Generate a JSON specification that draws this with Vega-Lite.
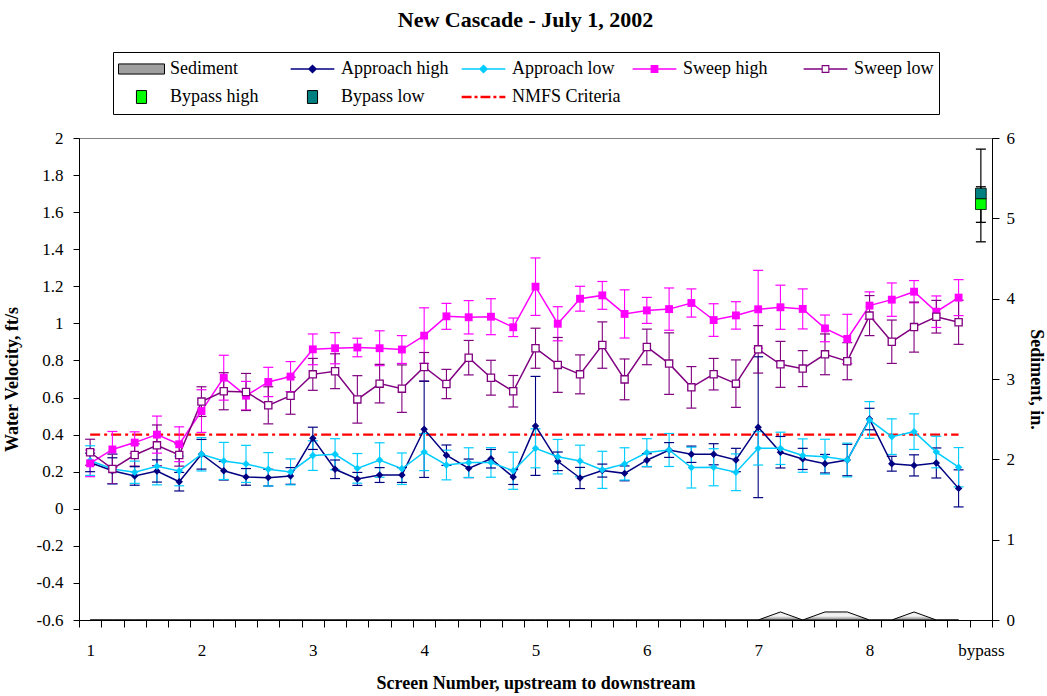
{
"$schema": "https://vega.github.io/schema/vega-lite/v6.json",
"width": 913, "height": 482,
"autosize": {"type": "none"},
"padding": {"left": 79, "top": 138, "right": 55, "bottom": 76},
"background": "white",
"config": {
  "font": "Liberation Serif",
  "view": {"stroke": "#808080", "strokeWidth": 1},
  "axis": {"labelFont": "Liberation Serif", "labelFontSize": 17, "labelColor": "black", "titleFont": "Liberation Serif", "titleFontSize": 18, "titleFontWeight": "bold", "titleColor": "black", "domainColor": "black", "tickColor": "black", "grid": false, "labelFlush": false}
},
"title": {"text": "New Cascade - July 1, 2002", "font": "Liberation Serif", "fontSize": 22, "fontWeight": "bold", "color": "black", "anchor": "middle", "frame": "group", "offset": 20, "dx": -10},
"datasets": {
  "main": [
{"s":"Approach high","i":0,"v":0.25,"lo":0.2,"hi":0.3},
{"s":"Approach high","i":1,"v":0.205,"lo":0.135,"hi":0.275},
{"s":"Approach high","i":2,"v":0.177,"lo":0.127,"hi":0.227},
{"s":"Approach high","i":3,"v":0.204,"lo":0.144,"hi":0.264},
{"s":"Approach high","i":4,"v":0.146,"lo":0.096,"hi":0.196},
{"s":"Approach high","i":5,"v":0.294,"lo":0.214,"hi":0.374},
{"s":"Approach high","i":6,"v":0.205,"lo":0.155,"hi":0.255},
{"s":"Approach high","i":7,"v":0.172,"lo":0.127,"hi":0.217},
{"s":"Approach high","i":8,"v":0.168,"lo":0.123,"hi":0.213},
{"s":"Approach high","i":9,"v":0.177,"lo":0.132,"hi":0.222},
{"s":"Approach high","i":10,"v":0.38,"lo":0.32,"hi":0.44},
{"s":"Approach high","i":11,"v":0.213,"lo":0.163,"hi":0.263},
{"s":"Approach high","i":12,"v":0.161,"lo":0.126,"hi":0.196},
{"s":"Approach high","i":13,"v":0.182,"lo":0.142,"hi":0.222},
{"s":"Approach high","i":14,"v":0.182,"lo":0.142,"hi":0.222},
{"s":"Approach high","i":15,"v":0.429,"lo":0.169,"hi":0.689},
{"s":"Approach high","i":16,"v":0.289,"lo":0.234,"hi":0.344},
{"s":"Approach high","i":17,"v":0.218,"lo":0.168,"hi":0.268},
{"s":"Approach high","i":18,"v":0.27,"lo":0.22,"hi":0.32},
{"s":"Approach high","i":19,"v":0.171,"lo":0.131,"hi":0.211},
{"s":"Approach high","i":20,"v":0.447,"lo":0.18,"hi":0.714},
{"s":"Approach high","i":21,"v":0.256,"lo":0.206,"hi":0.306},
{"s":"Approach high","i":22,"v":0.166,"lo":0.109,"hi":0.223},
{"s":"Approach high","i":23,"v":0.206,"lo":0.171,"hi":0.241},
{"s":"Approach high","i":24,"v":0.191,"lo":0.151,"hi":0.231},
{"s":"Approach high","i":25,"v":0.262,"lo":0.227,"hi":0.297},
{"s":"Approach high","i":26,"v":0.317,"lo":0.277,"hi":0.357},
{"s":"Approach high","i":27,"v":0.294,"lo":0.25,"hi":0.338},
{"s":"Approach high","i":28,"v":0.294,"lo":0.237,"hi":0.351},
{"s":"Approach high","i":29,"v":0.263,"lo":0.2,"hi":0.326},
{"s":"Approach high","i":30,"v":0.44,"lo":0.06,"hi":0.82},
{"s":"Approach high","i":31,"v":0.305,"lo":0.22,"hi":0.39},
{"s":"Approach high","i":32,"v":0.269,"lo":0.212,"hi":0.326},
{"s":"Approach high","i":33,"v":0.243,"lo":0.193,"hi":0.293},
{"s":"Approach high","i":34,"v":0.263,"lo":0.178,"hi":0.348},
{"s":"Approach high","i":35,"v":0.484,"lo":0.426,"hi":0.542},
{"s":"Approach high","i":36,"v":0.243,"lo":0.203,"hi":0.283},
{"s":"Approach high","i":37,"v":0.234,"lo":0.177,"hi":0.291},
{"s":"Approach high","i":38,"v":0.247,"lo":0.166,"hi":0.328},
{"s":"Approach high","i":39,"v":0.11,"lo":0.01,"hi":0.21},
{"s":"Approach low","i":0,"v":0.26,"lo":0.18,"hi":0.34},
{"s":"Approach low","i":1,"v":0.215,"lo":0.135,"hi":0.295},
{"s":"Approach low","i":2,"v":0.197,"lo":0.137,"hi":0.257},
{"s":"Approach low","i":3,"v":0.229,"lo":0.129,"hi":0.329},
{"s":"Approach low","i":4,"v":0.204,"lo":0.124,"hi":0.284},
{"s":"Approach low","i":5,"v":0.294,"lo":0.204,"hi":0.384},
{"s":"Approach low","i":6,"v":0.258,"lo":0.158,"hi":0.358},
{"s":"Approach low","i":7,"v":0.242,"lo":0.142,"hi":0.342},
{"s":"Approach low","i":8,"v":0.213,"lo":0.123,"hi":0.303},
{"s":"Approach low","i":9,"v":0.199,"lo":0.129,"hi":0.269},
{"s":"Approach low","i":10,"v":0.287,"lo":0.207,"hi":0.367},
{"s":"Approach low","i":11,"v":0.294,"lo":0.21,"hi":0.378},
{"s":"Approach low","i":12,"v":0.218,"lo":0.138,"hi":0.298},
{"s":"Approach low","i":13,"v":0.263,"lo":0.17,"hi":0.356},
{"s":"Approach low","i":14,"v":0.216,"lo":0.131,"hi":0.301},
{"s":"Approach low","i":15,"v":0.306,"lo":0.206,"hi":0.406},
{"s":"Approach low","i":16,"v":0.236,"lo":0.156,"hi":0.316},
{"s":"Approach low","i":17,"v":0.249,"lo":0.169,"hi":0.329},
{"s":"Approach low","i":18,"v":0.25,"lo":0.17,"hi":0.33},
{"s":"Approach low","i":19,"v":0.205,"lo":0.105,"hi":0.305},
{"s":"Approach low","i":20,"v":0.326,"lo":0.221,"hi":0.431},
{"s":"Approach low","i":21,"v":0.281,"lo":0.188,"hi":0.374},
{"s":"Approach low","i":22,"v":0.258,"lo":0.173,"hi":0.343},
{"s":"Approach low","i":23,"v":0.21,"lo":0.11,"hi":0.31},
{"s":"Approach low","i":24,"v":0.242,"lo":0.155,"hi":0.329},
{"s":"Approach low","i":25,"v":0.303,"lo":0.228,"hi":0.378},
{"s":"Approach low","i":26,"v":0.317,"lo":0.228,"hi":0.406},
{"s":"Approach low","i":27,"v":0.222,"lo":0.112,"hi":0.332},
{"s":"Approach low","i":28,"v":0.224,"lo":0.124,"hi":0.324},
{"s":"Approach low","i":29,"v":0.197,"lo":0.098,"hi":0.296},
{"s":"Approach low","i":30,"v":0.326,"lo":0.236,"hi":0.416},
{"s":"Approach low","i":31,"v":0.326,"lo":0.239,"hi":0.413},
{"s":"Approach low","i":32,"v":0.287,"lo":0.197,"hi":0.377},
{"s":"Approach low","i":33,"v":0.281,"lo":0.187,"hi":0.375},
{"s":"Approach low","i":34,"v":0.263,"lo":0.172,"hi":0.354},
{"s":"Approach low","i":35,"v":0.479,"lo":0.38,"hi":0.578},
{"s":"Approach low","i":36,"v":0.389,"lo":0.293,"hi":0.485},
{"s":"Approach low","i":37,"v":0.416,"lo":0.32,"hi":0.512},
{"s":"Approach low","i":38,"v":0.306,"lo":0.221,"hi":0.391},
{"s":"Approach low","i":39,"v":0.224,"lo":0.118,"hi":0.33},
{"s":"Sweep high","i":0,"v":0.245,"lo":0.173,"hi":0.317},
{"s":"Sweep high","i":1,"v":0.32,"lo":0.223,"hi":0.417},
{"s":"Sweep high","i":2,"v":0.357,"lo":0.299,"hi":0.415},
{"s":"Sweep high","i":3,"v":0.4,"lo":0.3,"hi":0.5},
{"s":"Sweep high","i":4,"v":0.348,"lo":0.254,"hi":0.442},
{"s":"Sweep high","i":5,"v":0.527,"lo":0.412,"hi":0.642},
{"s":"Sweep high","i":6,"v":0.707,"lo":0.586,"hi":0.828},
{"s":"Sweep high","i":7,"v":0.61,"lo":0.533,"hi":0.687},
{"s":"Sweep high","i":8,"v":0.684,"lo":0.605,"hi":0.763},
{"s":"Sweep high","i":9,"v":0.713,"lo":0.632,"hi":0.794},
{"s":"Sweep high","i":10,"v":0.86,"lo":0.777,"hi":0.943},
{"s":"Sweep high","i":11,"v":0.866,"lo":0.782,"hi":0.95},
{"s":"Sweep high","i":12,"v":0.87,"lo":0.82,"hi":0.92},
{"s":"Sweep high","i":13,"v":0.866,"lo":0.772,"hi":0.96},
{"s":"Sweep high","i":14,"v":0.859,"lo":0.784,"hi":0.934},
{"s":"Sweep high","i":15,"v":0.934,"lo":0.784,"hi":1.084},
{"s":"Sweep high","i":16,"v":1.038,"lo":0.968,"hi":1.108},
{"s":"Sweep high","i":17,"v":1.033,"lo":0.943,"hi":1.123},
{"s":"Sweep high","i":18,"v":1.036,"lo":0.939,"hi":1.133},
{"s":"Sweep high","i":19,"v":0.979,"lo":0.929,"hi":1.029},
{"s":"Sweep high","i":20,"v":1.198,"lo":1.043,"hi":1.353},
{"s":"Sweep high","i":21,"v":0.998,"lo":0.906,"hi":1.09},
{"s":"Sweep high","i":22,"v":1.133,"lo":1.066,"hi":1.2},
{"s":"Sweep high","i":23,"v":1.151,"lo":1.076,"hi":1.226},
{"s":"Sweep high","i":24,"v":1.051,"lo":0.921,"hi":1.181},
{"s":"Sweep high","i":25,"v":1.07,"lo":1.0,"hi":1.14},
{"s":"Sweep high","i":26,"v":1.077,"lo":0.963,"hi":1.191},
{"s":"Sweep high","i":27,"v":1.11,"lo":1.034,"hi":1.186},
{"s":"Sweep high","i":28,"v":1.018,"lo":0.93,"hi":1.106},
{"s":"Sweep high","i":29,"v":1.043,"lo":0.969,"hi":1.117},
{"s":"Sweep high","i":30,"v":1.076,"lo":0.866,"hi":1.286},
{"s":"Sweep high","i":31,"v":1.087,"lo":0.968,"hi":1.206},
{"s":"Sweep high","i":32,"v":1.078,"lo":0.97,"hi":1.186},
{"s":"Sweep high","i":33,"v":0.973,"lo":0.901,"hi":1.045},
{"s":"Sweep high","i":34,"v":0.916,"lo":0.783,"hi":1.049},
{"s":"Sweep high","i":35,"v":1.096,"lo":1.022,"hi":1.17},
{"s":"Sweep high","i":36,"v":1.128,"lo":1.038,"hi":1.218},
{"s":"Sweep high","i":37,"v":1.171,"lo":1.111,"hi":1.231},
{"s":"Sweep high","i":38,"v":1.063,"lo":0.978,"hi":1.148},
{"s":"Sweep high","i":39,"v":1.139,"lo":1.042,"hi":1.236},
{"s":"Sweep low","i":0,"v":0.305,"lo":0.235,"hi":0.375},
{"s":"Sweep low","i":1,"v":0.215,"lo":0.135,"hi":0.295},
{"s":"Sweep low","i":2,"v":0.29,"lo":0.23,"hi":0.35},
{"s":"Sweep low","i":3,"v":0.342,"lo":0.232,"hi":0.452},
{"s":"Sweep low","i":4,"v":0.29,"lo":0.23,"hi":0.35},
{"s":"Sweep low","i":5,"v":0.578,"lo":0.498,"hi":0.658},
{"s":"Sweep low","i":6,"v":0.634,"lo":0.534,"hi":0.734},
{"s":"Sweep low","i":7,"v":0.63,"lo":0.53,"hi":0.73},
{"s":"Sweep low","i":8,"v":0.558,"lo":0.458,"hi":0.658},
{"s":"Sweep low","i":9,"v":0.61,"lo":0.51,"hi":0.71},
{"s":"Sweep low","i":10,"v":0.725,"lo":0.639,"hi":0.811},
{"s":"Sweep low","i":11,"v":0.742,"lo":0.648,"hi":0.836},
{"s":"Sweep low","i":12,"v":0.59,"lo":0.462,"hi":0.718},
{"s":"Sweep low","i":13,"v":0.675,"lo":0.571,"hi":0.779},
{"s":"Sweep low","i":14,"v":0.648,"lo":0.52,"hi":0.776},
{"s":"Sweep low","i":15,"v":0.765,"lo":0.687,"hi":0.843},
{"s":"Sweep low","i":16,"v":0.673,"lo":0.594,"hi":0.752},
{"s":"Sweep low","i":17,"v":0.815,"lo":0.722,"hi":0.908},
{"s":"Sweep low","i":18,"v":0.707,"lo":0.613,"hi":0.801},
{"s":"Sweep low","i":19,"v":0.634,"lo":0.549,"hi":0.719},
{"s":"Sweep low","i":20,"v":0.866,"lo":0.758,"hi":0.974},
{"s":"Sweep low","i":21,"v":0.776,"lo":0.628,"hi":0.924},
{"s":"Sweep low","i":22,"v":0.725,"lo":0.62,"hi":0.83},
{"s":"Sweep low","i":23,"v":0.883,"lo":0.758,"hi":1.008},
{"s":"Sweep low","i":24,"v":0.698,"lo":0.588,"hi":0.808},
{"s":"Sweep low","i":25,"v":0.873,"lo":0.777,"hi":0.969},
{"s":"Sweep low","i":26,"v":0.783,"lo":0.617,"hi":0.949},
{"s":"Sweep low","i":27,"v":0.655,"lo":0.543,"hi":0.767},
{"s":"Sweep low","i":28,"v":0.726,"lo":0.641,"hi":0.811},
{"s":"Sweep low","i":29,"v":0.675,"lo":0.547,"hi":0.803},
{"s":"Sweep low","i":30,"v":0.86,"lo":0.732,"hi":0.988},
{"s":"Sweep low","i":31,"v":0.779,"lo":0.655,"hi":0.903},
{"s":"Sweep low","i":32,"v":0.756,"lo":0.659,"hi":0.853},
{"s":"Sweep low","i":33,"v":0.833,"lo":0.723,"hi":0.943},
{"s":"Sweep low","i":34,"v":0.796,"lo":0.696,"hi":0.896},
{"s":"Sweep low","i":35,"v":1.042,"lo":0.934,"hi":1.15},
{"s":"Sweep low","i":36,"v":0.901,"lo":0.784,"hi":1.018},
{"s":"Sweep low","i":37,"v":0.98,"lo":0.845,"hi":1.115},
{"s":"Sweep low","i":38,"v":1.036,"lo":0.948,"hi":1.124},
{"s":"Sweep low","i":39,"v":1.006,"lo":0.887,"hi":1.125}
  ],
  "bypass": [
{"s":"Bypass low","i":40,"v":1.70,"lo":1.44,"hi":1.94},
{"s":"Bypass high","i":40,"v":1.643,"lo":1.545,"hi":1.737}
  ],
  "nmfs": [
{"i":0,"v":0.4},{"i":1,"v":0.4},{"i":2,"v":0.4},{"i":3,"v":0.4},{"i":4,"v":0.4},{"i":5,"v":0.4},{"i":6,"v":0.4},{"i":7,"v":0.4},{"i":8,"v":0.4},{"i":9,"v":0.4},
{"i":10,"v":0.4},{"i":11,"v":0.4},{"i":12,"v":0.4},{"i":13,"v":0.4},{"i":14,"v":0.4},{"i":15,"v":0.4},{"i":16,"v":0.4},{"i":17,"v":0.4},{"i":18,"v":0.4},{"i":19,"v":0.4},
{"i":20,"v":0.4},{"i":21,"v":0.4},{"i":22,"v":0.4},{"i":23,"v":0.4},{"i":24,"v":0.4},{"i":25,"v":0.4},{"i":26,"v":0.4},{"i":27,"v":0.4},{"i":28,"v":0.4},{"i":29,"v":0.4},
{"i":30,"v":0.4},{"i":31,"v":0.4},{"i":32,"v":0.4},{"i":33,"v":0.4},{"i":34,"v":0.4},{"i":35,"v":0.4},{"i":36,"v":0.4},{"i":37,"v":0.4},{"i":38,"v":0.4},{"i":39,"v":0.4}
  ],
  "sed": [
{"i":0,"sed":0},{"i":1,"sed":0},{"i":2,"sed":0},{"i":3,"sed":0},{"i":4,"sed":0},{"i":5,"sed":0},{"i":6,"sed":0},{"i":7,"sed":0},{"i":8,"sed":0},{"i":9,"sed":0},
{"i":10,"sed":0},{"i":11,"sed":0},{"i":12,"sed":0},{"i":13,"sed":0},{"i":14,"sed":0},{"i":15,"sed":0},{"i":16,"sed":0},{"i":17,"sed":0},{"i":18,"sed":0},{"i":19,"sed":0},
{"i":20,"sed":0},{"i":21,"sed":0},{"i":22,"sed":0},{"i":23,"sed":0},{"i":24,"sed":0},{"i":25,"sed":0},{"i":26,"sed":0},{"i":27,"sed":0},{"i":28,"sed":0},{"i":29,"sed":0},
{"i":30,"sed":0},{"i":31,"sed":0.1},{"i":32,"sed":0},{"i":33,"sed":0.1},{"i":34,"sed":0.1},{"i":35,"sed":0},{"i":36,"sed":0},{"i":37,"sed":0.1},{"i":38,"sed":0},{"i":39,"sed":0}
  ],
  "legendrows": [
{"s":"Sediment"},{"s":"Approach high"},{"s":"Approach low"},{"s":"Sweep high"},{"s":"Sweep low"},{"s":"Bypass high"},{"s":"Bypass low"},{"s":"NMFS Criteria"}
  ]
},
"layer": [
 {
  "encoding": {
    "x": {"field": "i", "type": "quantitative", "scale": {"domain": [-0.5, 40.5], "nice": false, "zero": false},
          "axis": {"orient": "bottom", "values": [-0.5,0.5,1.5,2.5,3.5,4.5,5.5,6.5,7.5,8.5,9.5,10.5,11.5,12.5,13.5,14.5,15.5,16.5,17.5,18.5,19.5,20.5,21.5,22.5,23.5,24.5,25.5,26.5,27.5,28.5,29.5,30.5,31.5,32.5,33.5,34.5,35.5,36.5,37.5,38.5,39.5,40.5], "labels": false, "tickSize": 7, "title": null}},
    "y": {"field": "v", "type": "quantitative", "scale": {"domain": [-0.6, 2], "nice": false, "zero": false},
          "axis": {"orient": "left", "values": [-0.6,-0.4,-0.2,0,0.2,0.4,0.6,0.8,1,1.2,1.4,1.6,1.8,2], "labelExpr": "datum.value < 0 ? '-' + format(-datum.value, '.1~f') : format(datum.value, '.1~f')", "tickSize": 6, "labelPadding": 10, "title": "Water Velocity, ft/s", "titlePadding": 15}}
  },
  "layer": [
    {"data": {"name": "legendrows"}, "mark": {"type": "point", "filled": true, "opacity": 1},
     "encoding": {
       "color": {"field": "s", "type": "nominal",
         "scale": {"domain": ["Sediment","Approach high","Approach low","Sweep high","Sweep low","Bypass high","Bypass low","NMFS Criteria"], "range": ["#A0A0A0","#000080","#00CCFF","#FF00FF","#800080","#00FF00","#008080","#FF0000"]},
         "legend": {"title": null, "orient": "none", "legendX": 34, "legendY": -86, "columns": 5, "direction": "horizontal", "gridAlign": "all", "symbolSize": 2116, "clipHeight": 24, "labelFont": "Liberation Serif", "labelFontSize": 18, "labelColor": "black", "labelOffset": 5, "columnPadding": 10, "rowPadding": 4, "padding": 5, "strokeColor": "black", "fillColor": "white", "symbolOpacity": 1,
           "encode": {"symbols": {"update": {
             "fill": [{"test": "datum.value === 'Sediment'", "value": {"gradient": "linear", "x1": 0, "y1": 0, "x2": 0, "y2": 1, "stops": [{"offset": 0, "color": "#7a7a7a"}, {"offset": 0.5, "color": "#f0f0f0"}, {"offset": 1, "color": "#7a7a7a"}]}}, {"scale": "color", "field": "value"}],
             "stroke": [{"test": "datum.value === 'Sediment' || datum.value === 'Bypass high' || datum.value === 'Bypass low'", "value": "black"}, {"value": "transparent"}],
             "strokeWidth": {"value": 1},
             "opacity": {"value": 1}}}}}},
       "shape": {"field": "s", "type": "nominal",
         "scale": {"domain": ["Sediment","Approach high","Approach low","Sweep high","Sweep low","Bypass high","Bypass low","NMFS Criteria"],
                   "range": [
                     "M-1,-0.22H1V0.22H-1Z",
                     "M-0.95,-0.035H0.95V0.035H-0.95Z M0,-0.2L0.2,0L0,0.2L-0.2,0Z",
                     "M-0.95,-0.035H0.95V0.035H-0.95Z M0,-0.2L0.2,0L0,0.2L-0.2,0Z",
                     "M-0.95,-0.035H0.95V0.035H-0.95Z M-0.17,-0.17H0.17V0.17H-0.17Z",
                     "M-0.95,-0.035H-0.17V0.035H-0.95Z M0.17,-0.035H0.95V0.035H0.17Z M-0.17,-0.17H0.17V0.17H-0.17Z M-0.12,-0.12V0.12H0.12V-0.12Z",
                     "M-0.22,-0.28H0.22V0.28H-0.22Z",
                     "M-0.22,-0.28H0.22V0.28H-0.22Z",
                     "M-0.95,-0.055H-0.52V0.055H-0.95Z M-0.39,-0.055H-0.26V0.055H-0.39Z M-0.13,-0.055H0.3V0.055H-0.13Z M0.43,-0.055H0.56V0.055H0.43Z M0.69,-0.055H0.95V0.055H0.69Z"]},
         "legend": {"title": null, "orient": "none", "legendX": 34, "legendY": -86, "columns": 5, "direction": "horizontal", "gridAlign": "all", "symbolSize": 2116, "clipHeight": 24, "labelFont": "Liberation Serif", "labelFontSize": 18, "labelColor": "black", "labelOffset": 5, "columnPadding": 10, "rowPadding": 4, "padding": 5, "strokeColor": "black", "fillColor": "white", "symbolOpacity": 1}}
     }},
    {"data": {"name": "nmfs"}, "mark": {"type": "line", "color": "#FF0000", "strokeWidth": 2.2, "strokeDash": [10, 4, 3, 4]}},
    {"data": {"name": "main"}, "mark": {"type": "rule", "strokeWidth": 1.1},
     "encoding": {"y": {"field": "lo", "type": "quantitative", "axis": {"orient": "left", "values": [-0.6,-0.4,-0.2,0,0.2,0.4,0.6,0.8,1,1.2,1.4,1.6,1.8,2], "labelExpr": "datum.value < 0 ? '-' + format(-datum.value, '.1~f') : format(datum.value, '.1~f')", "tickSize": 6, "labelPadding": 10, "title": "Water Velocity, ft/s", "titlePadding": 15}}, "y2": {"field": "hi"},
       "stroke": {"field": "s", "type": "nominal", "legend": null, "scale": {"domain": ["Approach high","Approach low","Sweep high","Sweep low"], "range": ["#000080","#00CCFF","#FF00FF","#800080"]}}}},
    {"data": {"name": "main"}, "mark": {"type": "point", "shape": "stroke", "size": 100, "strokeWidth": 1.2, "filled": false, "opacity": 1},
     "encoding": {"y": {"field": "lo", "type": "quantitative", "axis": {"orient": "left", "values": [-0.6,-0.4,-0.2,0,0.2,0.4,0.6,0.8,1,1.2,1.4,1.6,1.8,2], "labelExpr": "datum.value < 0 ? '-' + format(-datum.value, '.1~f') : format(datum.value, '.1~f')", "tickSize": 6, "labelPadding": 10, "title": "Water Velocity, ft/s", "titlePadding": 15}},
       "stroke": {"field": "s", "type": "nominal", "legend": null, "scale": {"domain": ["Approach high","Approach low","Sweep high","Sweep low"], "range": ["#000080","#00CCFF","#FF00FF","#800080"]}}}},
    {"data": {"name": "main"}, "mark": {"type": "point", "shape": "stroke", "size": 100, "strokeWidth": 1.2, "filled": false, "opacity": 1},
     "encoding": {"y": {"field": "hi", "type": "quantitative", "axis": {"orient": "left", "values": [-0.6,-0.4,-0.2,0,0.2,0.4,0.6,0.8,1,1.2,1.4,1.6,1.8,2], "labelExpr": "datum.value < 0 ? '-' + format(-datum.value, '.1~f') : format(datum.value, '.1~f')", "tickSize": 6, "labelPadding": 10, "title": "Water Velocity, ft/s", "titlePadding": 15}},
       "stroke": {"field": "s", "type": "nominal", "legend": null, "scale": {"domain": ["Approach high","Approach low","Sweep high","Sweep low"], "range": ["#000080","#00CCFF","#FF00FF","#800080"]}}}},
    {"data": {"name": "main"}, "mark": {"type": "line", "strokeWidth": 1.5},
     "encoding": {"stroke": {"field": "s", "type": "nominal", "legend": null, "scale": {"domain": ["Approach high","Approach low","Sweep high","Sweep low"], "range": ["#000080","#00CCFF","#FF00FF","#800080"]}}}},
    {"data": {"name": "main"}, "transform": [{"filter": {"field": "s", "equal": "Approach high"}}],
     "mark": {"type": "point", "shape": "diamond", "filled": true, "size": 55, "opacity": 1, "color": "#000080"}},
    {"data": {"name": "main"}, "transform": [{"filter": {"field": "s", "equal": "Approach low"}}],
     "mark": {"type": "point", "shape": "diamond", "filled": true, "size": 55, "opacity": 1, "color": "#00CCFF"}},
    {"data": {"name": "main"}, "transform": [{"filter": {"field": "s", "equal": "Sweep high"}}],
     "mark": {"type": "point", "shape": "square", "filled": true, "size": 62, "opacity": 1, "color": "#FF00FF"}},
    {"data": {"name": "main"}, "transform": [{"filter": {"field": "s", "equal": "Sweep low"}}],
     "mark": {"type": "point", "shape": "square", "filled": true, "size": 52, "opacity": 1, "fill": "white", "stroke": "#800080", "strokeWidth": 1.3}},
    {"data": {"name": "bypass"}, "mark": {"type": "rule", "strokeWidth": 1.2, "color": "black"},
     "encoding": {"y": {"field": "lo", "type": "quantitative", "axis": {"orient": "left", "values": [-0.6,-0.4,-0.2,0,0.2,0.4,0.6,0.8,1,1.2,1.4,1.6,1.8,2], "labelExpr": "datum.value < 0 ? '-' + format(-datum.value, '.1~f') : format(datum.value, '.1~f')", "tickSize": 6, "labelPadding": 10, "title": "Water Velocity, ft/s", "titlePadding": 15}}, "y2": {"field": "hi"}}},
    {"data": {"name": "bypass"}, "mark": {"type": "point", "shape": "stroke", "size": 100, "strokeWidth": 1.3, "filled": false, "opacity": 1, "color": "black"},
     "encoding": {"y": {"field": "lo", "type": "quantitative", "axis": {"orient": "left", "values": [-0.6,-0.4,-0.2,0,0.2,0.4,0.6,0.8,1,1.2,1.4,1.6,1.8,2], "labelExpr": "datum.value < 0 ? '-' + format(-datum.value, '.1~f') : format(datum.value, '.1~f')", "tickSize": 6, "labelPadding": 10, "title": "Water Velocity, ft/s", "titlePadding": 15}}}},
    {"data": {"name": "bypass"}, "mark": {"type": "point", "shape": "stroke", "size": 100, "strokeWidth": 1.3, "filled": false, "opacity": 1, "color": "black"},
     "encoding": {"y": {"field": "hi", "type": "quantitative", "axis": {"orient": "left", "values": [-0.6,-0.4,-0.2,0,0.2,0.4,0.6,0.8,1,1.2,1.4,1.6,1.8,2], "labelExpr": "datum.value < 0 ? '-' + format(-datum.value, '.1~f') : format(datum.value, '.1~f')", "tickSize": 6, "labelPadding": 10, "title": "Water Velocity, ft/s", "titlePadding": 15}}}},
    {"data": {"name": "bypass"}, "transform": [{"filter": {"field": "s", "equal": "Bypass low"}}],
     "mark": {"type": "point", "shape": "square", "filled": true, "size": 115, "opacity": 1, "fill": "#008080", "stroke": "black", "strokeWidth": 0.8}},
    {"data": {"name": "bypass"}, "transform": [{"filter": {"field": "s", "equal": "Bypass high"}}],
     "mark": {"type": "point", "shape": "square", "filled": true, "size": 115, "opacity": 1, "fill": "#00FF00", "stroke": "black", "strokeWidth": 0.8}}
  ]
 },
 {
  "data": {"name": "sed"},
  "mark": {"type": "area", "color": {"gradient": "linear", "x1": 0, "y1": 0, "x2": 0, "y2": 1, "stops": [{"offset": 0, "color": "#e8e8e8"}, {"offset": 0.5, "color": "#f5f5f5"}, {"offset": 1, "color": "#808080"}]}, "stroke": "black", "strokeWidth": 1, "opacity": 1},
  "encoding": {
    "x": {"field": "i", "type": "quantitative", "scale": {"domain": [-0.5, 40.5], "nice": false, "zero": false},
          "axis": {"orient": "bottom", "values": [0,5,10,15,20,25,30,35,40], "labelExpr": "datum.value == 40 ? 'bypass' : '' + (datum.value / 5 + 1)", "ticks": false, "domain": false, "labelPadding": 22, "title": "Screen Number, upstream to downstream", "titlePadding": 16}},
    "y": {"field": "sed", "type": "quantitative", "scale": {"domain": [0, 6], "nice": false, "zero": true},
          "axis": {"orient": "right", "values": [0,1,2,3,4,5,6], "format": "d", "tickSize": 7, "labelPadding": 7, "title": "Sediment, in.", "titlePadding": 12}}
  }
 }
],
"resolve": {"scale": {"x": "independent", "y": "independent"}}
}
